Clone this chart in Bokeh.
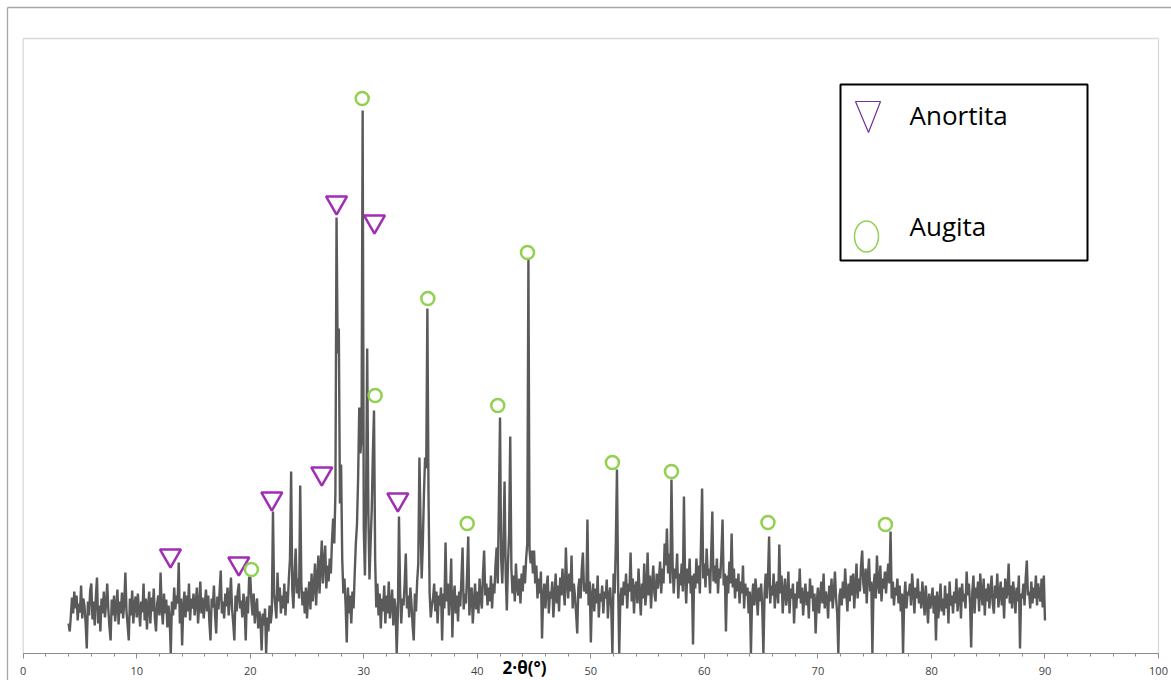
import numpy as np
from bokeh.plotting import figure
from bokeh.models import Range1d, SingleIntervalTicker, Label, BoxAnnotation, LinearAxis
from bokeh.embed import file_html
from bokeh.resources import INLINE

# ---- data (intensity in arbitrary units, one value per 0.1 deg 2theta) ----
theta_start = 4.0
theta_end = 90.0
intensity = [
    30, 22, 38, 56, 40, 62, 45, 58, 33, 50,      # 4
    41, 68, 35, 55, 47, 30, 5, 52, 38, 63,       # 5
    70, 34, 52, 28, 57, 76, 30, 48, 22, 55,      # 6
    40, 62, 36, 50, 70, 44, 26, 13, 54, 38,      # 7
    58, 32, 47, 64, 29, 52, 40, 61, 35, 50,      # 8
    81, 42, 28, 13, 55, 38, 63, 30, 49, 57,      # 9
    36, 60, 44, 27, 52, 41, 70, 33, 55, 24,      # 10
    48, 62, 30, 56, 42, 65, 35, 22, 50, 58,      # 11
    38, 81, 45, 29, 60, 40, 54, 26, 48, 35,      # 12
    0, 52, 38, 66, 44, 58, 50, 91, 30, 55,       # 13
    8, 47, 62, 36, 58, 42, 70, 33, 55, 45,       # 14
    60, 38, 52, 66, 30, 48, 72, 40, 56, 35,      # 15
    50, 64, 42, 58, 31, 13, 55, 46, 68, 38,      # 16
    20, 57, 44, 62, 83, 40, 52, 35, 60, 47,      # 17
    66, 38, 55, 76, 44, 30, 13, 58, 42, 62,      # 18
    70, 45, 53, 36, 60, 48, 13, 57, 40, 76,      # 19
    78, 52, 38, 60, 30, 46, 55, 25, 42, 34,      # 20
    3, 40, 28, 45, 0, 36, 22, 48, 30, 42,        # 21
    142, 60, 48, 35, 81, 52, 66, 40, 58, 45,     # 22
    70, 38, 62, 50, 75, 95, 182, 64, 45, 80,     # 23
    105, 60, 75, 55, 168, 70, 48, 62, 40, 66,    # 24
    35, 58, 72, 44, 80, 52, 66, 90, 48, 75,      # 25
    98, 60, 85, 113, 70, 92, 108, 65, 88, 72,    # 26
    95, 80, 113, 135, 110, 160, 436, 300, 325, 150,  # 27
    189, 95, 60, 75, 48, 11, 66, 40, 58, 30,     # 28
    62, 45, 80, 110, 129, 175, 246, 200, 215, 543,   # 29
    124, 78, 150, 305, 142, 74, 110, 144, 200, 243,  # 30
    94, 46, 70, 38, 60, 25, 55, 42, 68, 30,      # 31
    58, 40, 72, 35, 50, 64, 28, 55, 45, 0,       # 32
    40, 137, 62, 30, 55, 48, 70, 100, 45, 58,    # 33
    36, 66, 50, 28, 13, 60, 42, 72, 90, 196,     # 34
    130, 75, 110, 160, 196, 185, 345, 160, 60, 36,   # 35
    48, 55, 70, 42, 62, 30, 58, 48, 66, 13,      # 36
    60, 45, 111, 52, 70, 38, 60, 95, 16, 55,     # 37
    68, 40, 58, 32, 62, 47, 75, 106, 44, 60,     # 38
    50, 80, 117, 38, 58, 66, 30, 52, 70, 44,     # 39
    62, 40, 75, 55, 45, 80, 103, 58, 70, 48,     # 40
    66, 52, 78, 45, 70, 60, 88, 106, 70, 150,    # 41
    236, 95, 70, 110, 172, 80, 43, 90, 120, 217, # 42
    85, 60, 78, 52, 90, 66, 58, 75, 50, 80,      # 43
    62, 88, 70, 95, 110, 394, 103, 90, 103, 80,  # 44
    103, 70, 88, 55, 75, 60, 82, 15, 58, 70,     # 45
    45, 66, 78, 40, 62, 55, 72, 36, 58, 80,      # 46
    50, 68, 42, 76, 58, 85, 64, 48, 106, 70,     # 47
    55, 80, 62, 98, 45, 70, 58, 40, 20, 66,      # 48
    75, 55, 85, 101, 62, 70, 60, 134, 48, 72,    # 49
    11, 58, 70, 42, 65, 50, 78, 36, 60, 52,      # 50
    68, 40, 62, 55, 74, 35, 58, 66, 45, 0,       # 51
    80, 60, 110, 184, 70, 0, 55, 66, 48, 72,     # 52
    58, 80, 45, 70, 62, 101, 52, 75, 40, 66,     # 53
    72, 50, 85, 60, 38, 70, 55, 90, 48, 62,      # 54
    101, 58, 78, 45, 70, 88, 60, 52, 80, 65,     # 55
    75, 92, 60, 85, 70, 110, 88, 125, 80, 100,   # 56
    70, 174, 90, 60, 85, 75, 100, 55, 80, 68,    # 57
    90, 62, 157, 75, 50, 85, 70, 95, 60, 78,     # 58
    9, 80, 65, 95, 70, 88, 60, 110, 165, 75,     # 59
    90, 66, 105, 78, 85, 60, 100, 142, 72, 88,   # 60
    70, 95, 60, 85, 75, 100, 134, 68, 80, 22,    # 61
    78, 60, 92, 70, 120, 66, 85, 55, 75, 62,     # 62
    80, 50, 72, 60, 88, 45, 70, 58, 66, 40,      # 63
    62, 0, 55, 70, 48, 75, 60, 38, 66, 52,       # 64
    70, 45, 0, 60, 80, 55, 75, 117, 50, 68,      # 65
    58, 80, 45, 66, 72, 50, 109, 60, 78, 40,     # 66
    62, 75, 48, 58, 82, 40, 65, 55, 70, 30,      # 67
    60, 45, 72, 55, 85, 50, 66, 38, 58, 70,      # 68
    48, 62, 35, 75, 55, 68, 42, 60, 20, 52,      # 69
    66, 40, 58, 72, 50, 80, 45, 62, 55, 35,      # 70
    68, 52, 75, 45, 60, 82, 55, 40, 0, 58,       # 71
    65, 48, 72, 55, 85, 60, 42, 70, 52, 78,      # 72
    58, 80, 45, 68, 90, 55, 75, 62, 88, 103,     # 73
    70, 60, 85, 50, 78, 95, 62, 72, 0, 66,       # 74
    80, 55, 98, 70, 60, 88, 52, 75, 65, 82,      # 75
    60, 78, 90, 70, 122, 55, 72, 48, 66, 58,     # 76
    75, 50, 68, 42, 60, 0, 55, 72, 45, 62,       # 77
    58, 70, 48, 80, 62, 40, 66, 55, 75, 50,      # 78
    62, 45, 72, 55, 38, 68, 50, 30, 60, 45,      # 79
    52, 66, 40, 58, 13, 62, 35, 50, 70, 42,      # 80
    55, 38, 68, 45, 60, 30, 72, 48, 58, 40,      # 81
    62, 50, 75, 42, 58, 66, 35, 70, 52, 60,      # 82
    45, 82, 58, 70, 50, 6, 62, 78, 40, 66,       # 83
    55, 72, 42, 80, 60, 48, 75, 38, 65, 52,      # 84
    70, 45, 62, 78, 50, 40, 68, 55, 80, 46,      # 85
    60, 72, 48, 66, 35, 75, 55, 62, 90, 50,      # 86
    68, 45, 72, 58, 40, 66, 52, 78, 5, 60,       # 87
    55, 70, 48, 75, 93, 58, 62, 45, 72, 50,      # 88
    66, 55, 78, 48, 70, 60, 52, 75, 46, 78,      # 89
    33,                                          # 90
]
theta = np.linspace(theta_start, theta_end, len(intensity))

# phase markers (2theta, height of marker)
anortita_x = [12.97, 18.99, 21.9, 26.3, 27.6, 30.94, 33.0]
anortita_y = [98, 90, 155, 180, 451, 432, 154]
augita_x = [20.1, 29.86, 31.0, 35.64, 39.11, 41.8, 44.42, 51.9, 57.1, 65.6, 75.95]
augita_y = [84, 555, 258, 355, 130, 248, 401, 191, 182, 131, 129]

legend_labels = ["Anortita", "Augita"]
x_title = "2·θ(°)"
axis_min, axis_max = 0, 100
y_top = 615

ANORT_COLOR = "#a02db4"
AUG_COLOR = "#92d050"

# ---- layout helpers: the frame covers the whole canvas; pixel -> data conversion ----
W, H = 1171, 680
PX0, PXU, BASE = 22.7, 11.353, 653.0   # x pixel of 0 deg, pixels per degree, pixel row of y=0


def dx(px):
    return (px - PX0) / PXU


def dy(py):
    return BASE - py


p = figure(width=W, height=H, output_backend="svg", toolbar_location=None,
           x_range=Range1d(dx(0), dx(W)), y_range=Range1d(dy(H), dy(0)),
           x_axis_location=None, y_axis_location=None,
           min_border=0, min_border_left=0, min_border_right=0,
           min_border_top=0, min_border_bottom=0)
p.background_fill_color = "white"
p.border_fill_color = "white"
p.outline_line_color = None
p.xgrid.visible = False
p.ygrid.visible = False

# outer chart border (top and left visible)
p.segment(x0=[dx(7), dx(7)], y0=[dy(7), dy(7)], x1=[dx(7), dx(W)], y1=[dy(H), dy(7)],
          line_color="#a6a6a6", line_width=1.3)
# plot-area border
p.segment(x0=[axis_min, axis_min, axis_max], y0=[0, y_top, 0],
          x1=[axis_min, axis_max, axis_max], y1=[y_top, y_top, y_top],
          line_color="#d9d9d9", line_width=1.3)

ax = LinearAxis(fixed_location=0, bounds=(axis_min, axis_max))
ax.ticker = SingleIntervalTicker(interval=10, num_minor_ticks=5)
ax.axis_line_color = "#8c8c8c"
ax.major_tick_line_color = "#8c8c8c"
ax.minor_tick_line_color = "#8c8c8c"
ax.major_tick_in = 0
ax.major_tick_out = 5
ax.minor_tick_in = 0
ax.minor_tick_out = 3
ax.major_label_standoff = 8
ax.major_label_text_font = "Open Sans"
ax.major_label_text_font_size = "11px"
ax.major_label_text_color = "#3f3f3f"
p.add_layout(ax, "below")

# diffractogram
p.line(theta, intensity, line_color="#5a5a5a", line_width=2.4)

# phase markers
p.scatter(anortita_x, anortita_y, marker="inverted_triangle", size=21,
          fill_color=None, line_color=ANORT_COLOR, line_width=2.5)
p.scatter(augita_x, augita_y, marker="circle", size=13,
          fill_color=None, line_color=AUG_COLOR, line_width=2.5)

# x-axis title, on the row of the tick labels
p.add_layout(Label(x=dx(524), y=dy(667), text=x_title, text_align="center",
                   text_baseline="alphabetic", text_font="Open Sans",
                   text_font_style="bold", text_font_size="17px", text_color="black"))

# hand-drawn legend box
p.add_layout(BoxAnnotation(left=dx(840), right=dx(1087), bottom=dy(260), top=dy(84),
                           fill_alpha=0, line_color="black", line_alpha=1, line_width=2))
p.patch([dx(855), dx(880), dx(868)], [dy(101), dy(101), dy(132)], fill_color=None,
        line_color="#7030a0", line_width=1.2)
p.ellipse(x=[dx(866)], y=[dy(236)], width=24, height=31, width_units="screen",
          height_units="screen", fill_color=None, line_color=AUG_COLOR, line_width=1.5)
p.add_layout(Label(x=dx(909), y=dy(114), text=legend_labels[0], text_font="Open Sans",
                   text_font_size="26px", text_color="black", text_baseline="alphabetic"))
p.add_layout(Label(x=dx(909), y=dy(225), text=legend_labels[1], text_font="Open Sans",
                   text_font_size="26px", text_color="black", text_baseline="alphabetic"))

open("out.html", "w").write(file_html(p, INLINE))
